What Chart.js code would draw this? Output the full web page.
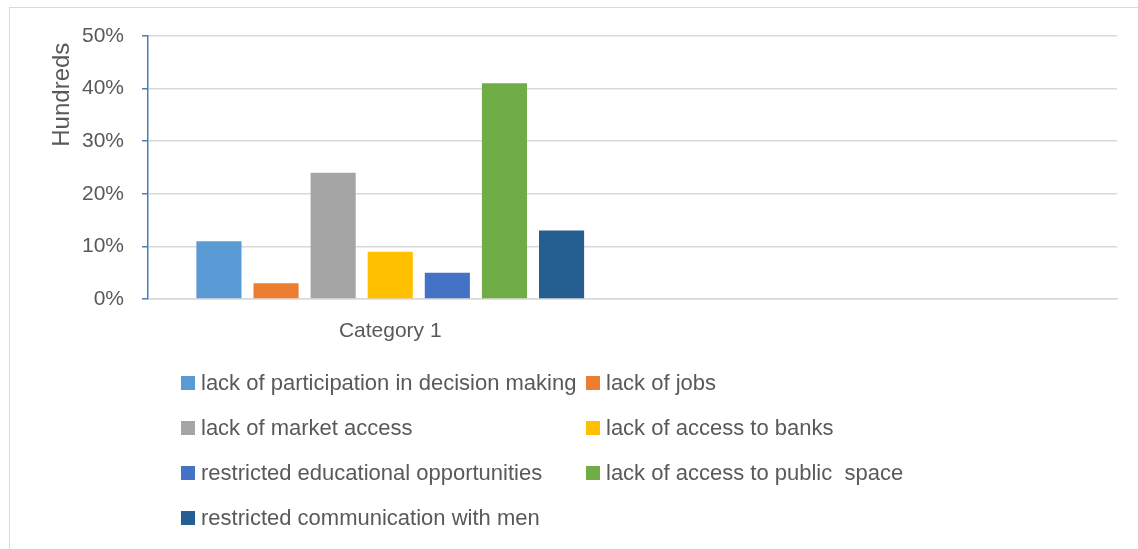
<!DOCTYPE html>
<html>
<head>
<meta charset="utf-8">
<script src="https://cdn.jsdelivr.net/npm/chart.js@4"></script>
<style>
  body { margin: 0; background: #fff; }
  #wrap { position: relative; width: 1138px; height: 549px; overflow: hidden; }
  #frame { position: absolute; left: 9px; top: 7px; width: 1200px; height: 600px;
           border-left: 1px solid #d9d9d9; border-top: 1px solid #d9d9d9; }
  #chart { position: absolute; left: 0; top: 0; }
  #legend { position: absolute; left: 181px; top: 360px; width: 900px;
            display: grid; grid-template-columns: 405px 400px; grid-auto-rows: 45px;
            font-family: "Liberation Sans", Arial, sans-serif; font-size: 22px; color: #595959; }
  .item { display: flex; align-items: center; white-space: pre; }
  .box { width: 14px; height: 14px; margin-right: 6px; flex: none; }
</style>
</head>
<body>
<div id="wrap">
  <div id="frame"></div>
  <canvas id="chart" width="1138" height="549"></canvas>
  <div id="legend"></div>
</div>
<script>
// categories (the second one carries no data)
const categories = ['Category 1', ''];
const seriesNames = [
  'lack of participation in decision making',
  'lack of jobs',
  'lack of market access',
  'lack of access to banks',
  'restricted educational opportunities',
  'lack of access to public  space',
  'restricted communication with men'
];
const seriesValues = [0.11, 0.03, 0.24, 0.09, 0.05, 0.41, 0.13];
const seriesColors = ['#5B9BD5', '#ED7D31', '#A5A5A5', '#FFC000', '#4472C4', '#70AD47', '#255E91'];
const yTicks = [0, 0.1, 0.2, 0.3, 0.4, 0.5];

const textColor = '#595959';
const fontFamily = '"Liberation Sans", Arial, sans-serif';

const datasets = seriesNames.map((name, i) => ({
  label: name,
  data: [seriesValues[i], null],
  backgroundColor: seriesColors[i],
  categoryPercentage: 0.825,
  barPercentage: 0.79
}));

const ctx = document.getElementById('chart').getContext('2d');
const chart = new Chart(ctx, {
  type: 'bar',
  data: { labels: categories, datasets: datasets },
  options: {
    responsive: false,
    animation: false,
    layout: { padding: { left: 44, top: 36, right: 21, bottom: 0 } },
    plugins: { legend: { display: false }, tooltip: { enabled: false } },
    scales: {
      x: {
        grid: { display: false, drawTicks: false },
        border: { display: true, color: '#d9d9d9', width: 1.5 },
        ticks: { color: textColor, padding: 20, font: { family: fontFamily, size: 21 } },
        afterFit: function (scale) { scale.height = 250; }
      },
      y: {
        min: 0,
        max: 0.5,
        afterBuildTicks: function (scale) {
          scale.ticks = yTicks.map(v => ({ value: v }));
        },
        grid: { color: '#d9d9d9', lineWidth: 1.5, tickLength: 6, tickColor: '#4a7ebb', tickWidth: 1.5 },
        border: { display: true, color: '#4a7ebb', width: 1.5 },
        ticks: {
          color: textColor,
          padding: 18,
          font: { family: fontFamily, size: 21 },
          callback: v => Math.round(v * 100) + '%'
        },
        title: {
          display: true,
          // trailing nbsp nudges the top-aligned title down a little
          text: 'Hundreds\u00a0',
          align: 'end',
          color: textColor,
          font: { family: fontFamily, size: 24 }
        },
        afterFit: function (scale) { scale.width = 104; }
      }
    }
  }
});

// two-column legend below the chart
const legend = document.getElementById('legend');
seriesNames.forEach((name, i) => {
  const item = document.createElement('div');
  item.className = 'item';
  const box = document.createElement('span');
  box.className = 'box';
  box.style.background = seriesColors[i];
  const label = document.createElement('span');
  label.textContent = name;
  item.appendChild(box);
  item.appendChild(label);
  legend.appendChild(item);
});
</script>
</body>
</html>
